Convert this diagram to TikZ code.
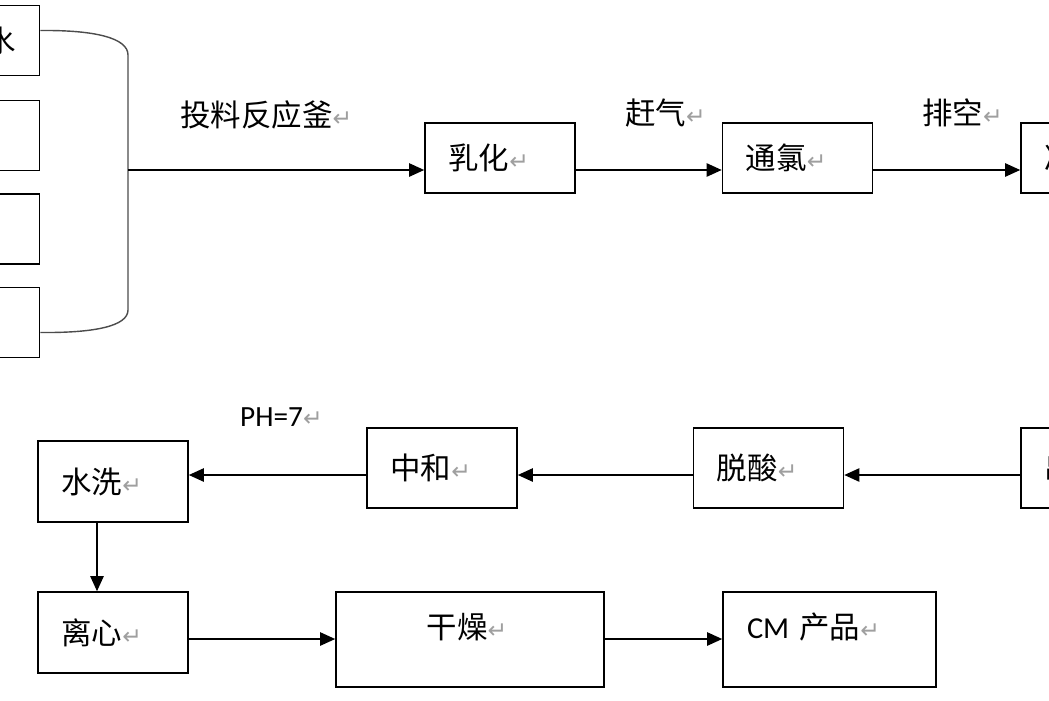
\documentclass[tikz,border=0pt]{standalone}
\usepackage{fontspec}
\setmainfont{Carlito}
\newfontfamily\cjk{Noto Sans CJK SC}
\newfontfamily\markfont{DejaVu Sans}
\usetikzlibrary{arrows.meta}

\newcommand{\retmark}{{\markfont\fontsize{20}{20}\selectfont\color{gray!75}↵}}

\tikzset{
  box/.style={draw, line width=1.4pt, inner xsep=0.7cm, inner ysep=0pt, align=left,
    text width=3.1cm, minimum height=2.1cm, font=\cjk\fontsize{26}{30}\selectfont},
  feedbox/.style={box, align=right, inner xsep=0.72cm},
  lbl/.style={anchor=west, inner sep=0pt, font=\cjk\fontsize{26}{30}\selectfont},
  flow/.style={line width=1.2pt, -{Triangle[length=0.45cm,width=0.4cm]}},
}

\begin{document}
\begin{tikzpicture}[x=0.03cm, y=-0.03cm]

    \useasboundingbox (0,0) rectangle (1049,700);
    \clip (0,0) rectangle (1049,700);
    \fill[white] (0,0) rectangle (1049,700);

    % feed
    \node[feedbox] (feedA) at (-36,40.5) {水};
    \node[feedbox] (feedB) at (-36,135.5) {};
    \node[feedbox] (feedC) at (-36,229) {};
    \node[feedbox] (feedD) at (-36,322.5) {};

    \coordinate (mixtop) at (128,55);
    \coordinate (mixbot) at (128,310);
    \coordinate (mixout) at (128,170);
    \draw[line width=1.2pt, gray!60!black] ([yshift=0.3cm]feedA.east)
        .. controls (95,30) and (128,38) .. (mixtop) -- (mixbot)
        .. controls (128,326) and (95,333) .. ([yshift=-0.3cm]feedD.east);

    % top row
    \node[box] (emul) at (500,158) {乳化\retmark};
    \node[box] (chlor) at (797.5,158) {通氯\retmark};
    \node[box] (cool) at (1096,158) {冷};

    \node[lbl] (feedlbl) at (180,115) {投料反应釜\retmark};
    \node[lbl] (purge) at (625,113) {赶气\retmark};
    \node[lbl] (vent) at (922,113) {排空\retmark};

    \draw[flow] (mixout) -- (mixout -| emul.west);
    \draw[flow] (emul.east |- mixout) -- (chlor.west |- mixout);
    \draw[flow] (chlor.east |- mixout) -- (cool.west |- mixout);

    % lower row
    \node[box, minimum height=2.4cm] (disch) at (1096,468) {出};
    \node[box, minimum height=2.4cm] (deacid) at (768.5,468) {脱酸\retmark};
    \node[box, minimum height=2.4cm] (neutr) at (442,468) {中和\retmark};
    \node[box, minimum height=2.43cm] (wash) at (113,481.5) {水洗\retmark};

    \node[lbl, font=\fontsize{25}{30}\selectfont] (ph) at (240,417) {PH=7\retmark};

    \coordinate (lowrow) at (0,475);
    \draw[flow] (disch.west |- lowrow) -- (deacid.east |- lowrow);
    \draw[flow] (deacid.west |- lowrow) -- (neutr.east |- lowrow);
    \draw[flow] (neutr.west |- lowrow) -- (wash.east |- lowrow);

    % bottom row
    \node[box, minimum height=2.43cm] (centri) at (113,632.5) {离心\retmark};
    \node[box, minimum height=2.85cm, text width=2.6cm, inner xsep=2.72cm,
        text depth=0.8cm] (dry) at (470,639.5) {干燥\retmark};
    \node[box, minimum height=2.85cm, text width=4.95cm, inner xsep=0.72cm,
        text depth=0.8cm] (product) at (829.5,639.5) {\textrm{CM} 产品\retmark};

    \coordinate (dropx) at (97,0);
    \coordinate (botrow) at (0,639);
    \draw[flow] (wash.south -| dropx) -- (centri.north -| dropx);
    \draw[flow] (centri.east |- botrow) -- (dry.west |- botrow);
    \draw[flow] (dry.east |- botrow) -- (product.west |- botrow);

\end{tikzpicture}
\end{document}
